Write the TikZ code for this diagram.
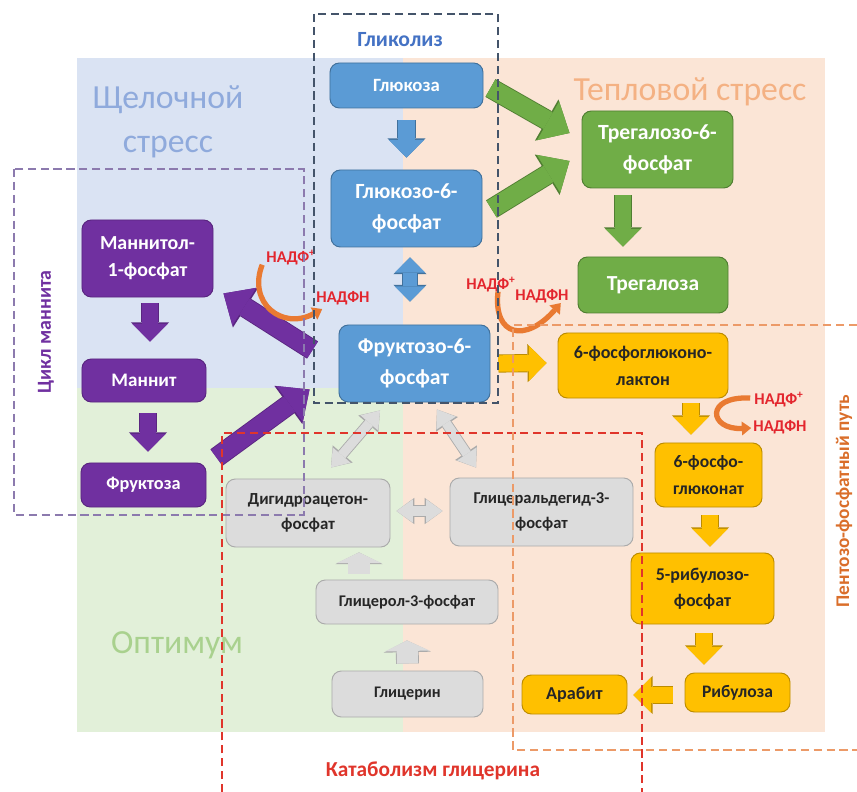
\documentclass[tikz,border=0pt]{standalone}
\usepackage{fontspec}
\setmainfont{Carlito}
\usepackage{tikz}
\usetikzlibrary{calc,arrows.meta}
\definecolor{blueF}{HTML}{5B9BD5}
\definecolor{blueD}{HTML}{41719C}
\definecolor{greenF}{HTML}{70AD47}
\definecolor{greenD}{HTML}{507E32}
\definecolor{yelF}{HTML}{FFC000}
\definecolor{yelD}{HTML}{BC8C00}
\definecolor{purF}{HTML}{7030A0}
\definecolor{purD}{HTML}{5A2680}
\definecolor{greyF}{HTML}{DCDCDC}
\definecolor{greyD}{HTML}{ABABAB}
\definecolor{bgBlue}{HTML}{DAE3F3}
\definecolor{bgOrange}{HTML}{FBE5D6}
\definecolor{bgGreen}{HTML}{E2F0D9}
\definecolor{txtBlue}{HTML}{8FAADC}
\definecolor{txtOrange}{HTML}{F4B183}
\definecolor{txtGreen}{HTML}{A9D18E}
\definecolor{nadpRed}{HTML}{E3262E}
\definecolor{curveOr}{HTML}{E97A32}
\definecolor{dashGly}{HTML}{44546A}
\definecolor{dashMan}{HTML}{8C7AAE}
\definecolor{dashCat}{HTML}{E0352B}
\definecolor{dashPen}{HTML}{EC9A68}
\definecolor{labGly}{HTML}{4472C4}
\definecolor{labPen}{HTML}{DA6E2A}

\begin{document}
\begin{tikzpicture}[x=0.03cm, y=-0.03cm,
  box/.style={rounded corners=8pt, line width=0.8pt, inner sep=0pt, align=center},
  bnode/.style={box, draw=blueD, fill=blueF, text=white},
  gnode/.style={box, draw=greenD, fill=greenF, text=white},
  ynode/.style={box, draw=yelD, fill=yelF, text=black!85},
  pnode/.style={box, draw=purD, fill=purF, text=white},
  cnode/.style={box, draw=greyD, fill=greyF, text=black!85},
  bglabel/.style={align=center, font=\fontsize{28.8}{37}\selectfont},
  nadp/.style={inner sep=0pt, text=nadpRed, font=\bfseries\fontsize{14}{15}\selectfont},
  nad/.style={draw=curveOr, line width=4.5pt, -{Triangle[length=8pt,width=12pt,line width=0pt]}},
  dashbox/.style={line width=0.9pt, dash pattern=on 7pt off 4pt},
  mid/.style 2 args={draw=#1, line width=14pt, -{Triangle[length=15pt,width=30pt,line width=0pt]},
    preaction={draw=#2, line width=15.5pt, -{Triangle[length=16.3pt,width=32.5pt,line width=0pt]}}},
  big/.style 2 args={draw=#1, line width=16pt, -{Triangle[length=21pt,width=38pt,line width=0pt]},
    preaction={draw=#2, line width=17.5pt, -{Triangle[length=22.4pt,width=40.5pt,line width=0pt]}}},
  bdbl/.style 2 args={draw=#1, line width=12pt,
    {Triangle[length=13pt,width=26pt,line width=0pt]}-{Triangle[length=13pt,width=26pt,line width=0pt]},
    preaction={draw=#2, line width=13.5pt,
    {Triangle[length=14.3pt,width=28.5pt,line width=0pt]}-{Triangle[length=14.3pt,width=28.5pt,line width=0pt]}}},
  gdbl/.style={draw=greyF, line width=8pt,
    {Triangle[length=14pt,width=20pt,line width=0pt]}-{Triangle[length=14pt,width=20pt,line width=0pt]},
    preaction={draw=greyD, line width=9.5pt,
    {Triangle[length=15.3pt,width=22.5pt,line width=0pt]}-{Triangle[length=15.3pt,width=22.5pt,line width=0pt]}}},
  gup/.style={draw=greyF, line width=18pt, -{Triangle[length=9pt,width=38pt,line width=0pt]},
    preaction={draw=greyD, line width=19.5pt, -{Triangle[length=10pt,width=40.5pt,line width=0pt]}}}]
\useasboundingbox (0,0) rectangle (857,792);
\fill[white] (0,0) rectangle (857,792);

% stress regions
\fill[bgBlue] (77,58) rectangle (403,388);
\fill[bgGreen] (77,388) rectangle (403,732);
\fill[bgOrange] (403,58) rectangle (825,732);
\node[bglabel, text=txtBlue] (alk) at (168,122) {Щелочной\\стресс};
\node[bglabel, text=txtOrange] (heat) at (690,92) {Тепловой стресс};
\node[bglabel, text=txtGreen] (opt) at (177,645) {Оптимум};

% glycolysis
\node[bnode, minimum width=4.59cm, minimum height=1.35cm, font=\bfseries\fontsize{16}{18}\selectfont] (glc) at (406.5,85.5) {Глюкоза};
\node[bnode, minimum width=4.53cm, minimum height=2.31cm, font=\bfseries\fontsize{18.5}{26}\selectfont] (g6p) at (406.5,208.5) {Глюкозо-6-\\фосфат};
\node[bnode, minimum width=4.53cm, minimum height=2.31cm, font=\bfseries\fontsize{18.5}{26}\selectfont] (f6p) at (414.5,363.5) {Фруктозо-6-\\фосфат};

% trehalose
\node[gnode, minimum width=4.53cm, minimum height=2.31cm, font=\bfseries\fontsize{18.5}{26}\selectfont] (t6p) at (657.5,149.5) {Трегалозо-6-\\фосфат};
\node[gnode, minimum width=4.5cm, minimum height=1.68cm, font=\bfseries\fontsize{18.3}{21}\selectfont] (tre) at (653,285) {Трегалоза};

% pentose phosphate
\node[ynode, minimum width=5.1cm, minimum height=1.95cm, font=\bfseries\fontsize{15.4}{23}\selectfont] (pgl) at (643,365.5) {6-фосфоглюконо-\\лактон};
\node[ynode, minimum width=3.21cm, minimum height=1.92cm, font=\bfseries\fontsize{15}{23}\selectfont] (pgn) at (708.5,475) {6-фосфо-\\глюконат};
\node[ynode, minimum width=4.29cm, minimum height=2.13cm, font=\bfseries\fontsize{15.3}{22}\selectfont] (ru5p) at (702.5,588.5) {5-рибулозо-\\фосфат};
\node[ynode, minimum width=3.15cm, minimum height=1.17cm, font=\bfseries\fontsize{15}{18}\selectfont] (rib) at (737.5,692.5) {Рибулоза};
\node[ynode, minimum width=3.15cm, minimum height=1.17cm, font=\bfseries\fontsize{15.5}{18}\selectfont] (arab) at (574.5,694.5) {Арабит};

% mannitol cycle
\node[pnode, minimum width=3.93cm, minimum height=2.31cm, font=\bfseries\fontsize{17}{23}\selectfont] (m1p) at (147.5,258.5) {Маннитол-\\1-фосфат};
\node[pnode, minimum width=3.72cm, minimum height=1.29cm, font=\bfseries\fontsize{16.3}{19}\selectfont] (mtl) at (144,380.5) {Маннит};
\node[pnode, minimum width=3.75cm, minimum height=1.32cm, font=\bfseries\fontsize{15.6}{18}\selectfont] (fru) at (143.5,485) {Фруктоза};

% glycerol catabolism
\node[cnode, minimum width=4.92cm, minimum height=2.04cm, font=\bfseries\fontsize{14.4}{21}\selectfont] (dhap) at (308,513) {Дигидроацетон-\\фосфат};
\node[cnode, minimum width=5.49cm, minimum height=2.04cm, font=\bfseries\fontsize{14.1}{21}\selectfont] (gap) at (541.5,512) {Глицеральдегид-3-\\фосфат};
\node[cnode, minimum width=5.46cm, minimum height=1.32cm, font=\bfseries\fontsize{13.9}{17}\selectfont] (g3p) at (407,602) {Глицерол-3-фосфат};
\node[cnode, minimum width=4.53cm, minimum height=1.38cm, font=\bfseries\fontsize{13.8}{17}\selectfont] (gly) at (407.5,694) {Глицерин};

% arrows
\draw[mid={blueF}{blueD}] ($(glc.south)+(0,12)$) -- ($(g6p.north)+(0,-12)$);
\draw[bdbl={blueF}{blueD}] ($(g6p.south)+(3.5,10)$) -- ($(f6p.north)+(-4.5,-23)$);
\draw[big={greenF}{greenD}] ($(glc.east)+(7,2.5)$) -- ($(t6p.west)+(-12,-16.5)$);
\draw[big={greenF}{greenD}] ($(g6p.east)+(9,0.5)$) -- ($(t6p.west)+(-12,11.5)$);
\draw[mid={greenF}{greenD}] ($(t6p.south)+(-34.5,7)$) -- ($(tre.north)+(-30,-10)$);
\draw[mid={yelF}{yelD}] ($(f6p.east)+(8,0)$) -- ($(pgl.west)+(-11,-2.5)$);
\draw[mid={yelF}{yelD}] ($(pgl.south)+(48,5)$) -- ($(pgn.north)+(-17.5,-8)$);
\draw[mid={yelF}{yelD}] ($(pgn.south)+(1.5,8)$) -- ($(ru5p.north)+(7.5,-6)$);
\draw[mid={yelF}{yelD}] ($(ru5p.south)+(1.5,9)$) -- ($(rib.north)+(-33.5,-8)$);
\draw[mid={yelF}{yelD}] ($(rib.west)+(-12,2.5)$) -- ($(arab.east)+(6,0.5)$);
\draw[big={purF}{purD}] ($(f6p.west)+(-26,-13.5)$) -- ($(m1p.south east)+(10,-4)$);
\draw[mid={purF}{purD}] ($(m1p.south)+(2.5,6)$) -- ($(mtl.north)+(6,-17)$);
\draw[mid={purF}{purD}] ($(mtl.south)+(4,11)$) -- ($(fru.north)+(4.5,-11)$);
\draw[big={purF}{purD}] ($(fru.north east)+(10,-5)$) -- ($(f6p.south west)+(-29,-13)$);
\draw[gdbl] ($(f6p.south)+(-34.5,8)$) -- ($(dhap.north)+(23,-11)$);
\draw[gdbl] ($(f6p.south)+(22.5,7)$) -- ($(gap.north)+(-65.5,-10)$);
\draw[gdbl] ($(dhap.east)+(6,-2)$) -- ($(gap.west)+(-7,-1)$);
\draw[gup] ($(g3p.north)+(-48,-6)$) -- ($(dhap.south)+(51,5)$);
\draw[gup] ($(gly.north)+(0,-7)$) -- ($(g3p.south)+(0,16)$);

% NADP+ -> NADPH
\node[nadp] (np1) at (291,258) {НАДФ\textsuperscript{+}};
\node[nadp] (nh1) at (343,298) {НАДФН};
\node[nadp] (np2) at (491,285) {НАДФ\textsuperscript{+}};
\node[nadp] (nh2) at (542,296) {НАДФН};
\node[nadp] (np3) at (779,400) {НАДФ\textsuperscript{+}};
\node[nadp] (nh3) at (780,427) {НАДФН};
\draw[nad] ($(np1.south west)+(-4,-1)$) .. controls +(-15,38) and +(-40,22) .. ($(nh1.south west)+(6,4)$);
\draw[nad] ($(np2.south)+(7,-1)$) .. controls +(-5,45) and +(-35,40) .. ($(nh2.south east)+(-8,0)$);
\draw[nad] ($(np3.west)+(-4,-2)$) .. controls +(-46,-2) and +(-42,2) .. ($(nh3.west)+(-2,1)$);

% pathway frames
\draw[dashGly, dashbox] (314,14) rectangle (498,403);
\draw[dashMan, dashbox] (14,169) rectangle (304,515);
\draw[dashCat, dashbox] (222,792) -- (222,433) -- (642,433) -- (642,792);
\draw[dashPen, dashbox] (857,325) -- (513,325) -- (513,750) -- (857,750);
\node[text=labGly, font=\bfseries\fontsize{18.5}{20}\selectfont] (glyl) at (400,40) {Гликолиз};
\node[text=purF, rotate=90, font=\bfseries\fontsize{17}{19}\selectfont] (manl) at (46,332) {Цикл маннита};
\node[text=dashCat, font=\bfseries\fontsize{18.2}{20}\selectfont] (catl) at (433,771) {Катаболизм глицерина};
\node[text=labPen, rotate=90, font=\bfseries\fontsize{16.5}{19}\selectfont] (penl) at (844,501) {Пентозо-фосфатный путь};
\end{tikzpicture}
\end{document}
